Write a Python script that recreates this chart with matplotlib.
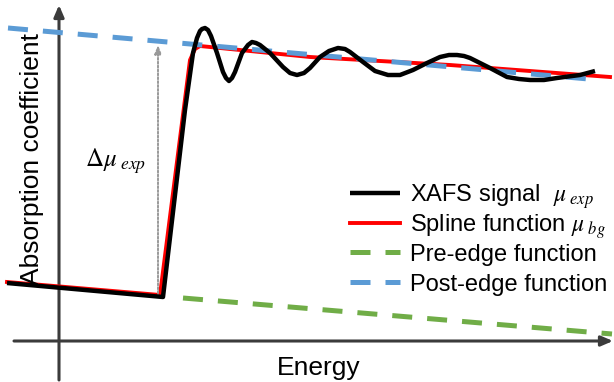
import matplotlib
matplotlib.use("Agg")
import matplotlib.pyplot as plt
from matplotlib.lines import Line2D

plt.rcParams['font.family'] = ['Liberation Sans', 'DejaVu Sans']
plt.rcParams['mathtext.fontset'] = 'stix'

# ---- data (arbitrary units, origin at the axes crossing) ----
xafs_E = [-52, 104, 126, 134, 138, 141, 143, 146, 149, 152, 158, 164, 167, 170, 173, 176,
          183, 189, 193, 197, 201, 211, 224, 231, 238, 245, 251, 261, 270, 279, 286, 291,
          304, 316, 329, 341, 354, 368, 381, 390, 398, 405, 411, 431, 448, 460, 471, 485,
          498, 521, 536]
xafs_mu = [58, 44, 231, 288, 303, 310, 312, 313, 311, 305, 288, 269, 263, 260, 263, 269,
           288, 296, 299, 298, 296, 288, 274, 268, 266, 268, 273, 284, 290, 293, 292, 289,
           279, 270, 266, 266, 271, 278, 284, 286, 286, 285, 283, 273, 264, 262, 261, 261,
           263, 266, 270]

spline_E = [-52, 101, 131, 136, 141, 251, 391, 551]
spline_mu = [59, 46, 281, 292, 295, 284, 276, 264]

pre_E = [124, 553]
pre_mu = [43, 7]

post_E = [-51, 541]
post_mu = [313, 261]

edge_E = 99
edge_mu0, edge_mu1 = 44, 296

labels = [r"XAFS signal  $\mu_{\ exp}$", r"Spline function $\mu_{\ bg}$",
          "Pre-edge function", "Post-edge function"]

# ---- figure ----
fig = plt.figure(figsize=(6.14, 3.82), dpi=100)
ax = fig.add_axes([0, 0, 1, 1])
ax.set_xlim(-59, 555)
ax.set_ylim(-41, 341)
ax.axis('off')

axc = '#3b3b3b'
# axes with arrows
ax.annotate('', xy=(0, 336), xytext=(0, -39),
            arrowprops=dict(arrowstyle='-|>,head_length=0.7,head_width=0.3', color=axc, lw=2.2,
                            shrinkA=0, shrinkB=0))
ax.annotate('', xy=(554, 0), xytext=(-45, 0),
            arrowprops=dict(arrowstyle='-|>,head_length=0.7,head_width=0.3', color=axc, lw=2.2,
                            shrinkA=0, shrinkB=0), annotation_clip=False)

styles = [dict(color='black', lw=3.2, solid_joinstyle='round', solid_capstyle='butt', zorder=5),
          dict(color='#FF0000', lw=2.8, zorder=3),
          dict(color='#70AD47', lw=3.6, dashes=(4, 3)),
          dict(color='#5B9BD5', lw=3.6, dashes=(4, 3), zorder=4)]

ax.plot(xafs_E, xafs_mu, **styles[0])
ax.plot(spline_E, spline_mu, **styles[1])
ax.plot(pre_E, pre_mu, **styles[2])
ax.plot(post_E, post_mu, **styles[3])

# delta mu arrow
ax.annotate('', xy=(edge_E, edge_mu1), xytext=(edge_E, edge_mu0),
            arrowprops=dict(arrowstyle='-|>,head_length=0.5,head_width=0.2', color='#999999',
                            lw=1.4, linestyle=(0, (1, 1)), shrinkA=0, shrinkB=0))
ax.text(26, 174, r"$\Delta\mu_{\ exp}$", fontsize=18, ha='left', va='baseline')

ax.text(218, -34, "Energy", fontsize=19, ha='left', va='baseline')
ax.text(-27, 182, "Absorption coefficient", fontsize=19, ha='center', va='center',
        rotation=90)

# manual legend (layout in axes-data units)
row_mid = [148, 118, 89, 59]
row_base = [139, 109, 80, 50]
for st, lab, ym, yb in zip(styles, labels, row_mid, row_base):
    st2 = {k: v for k, v in st.items() if k != 'zorder'}
    ax.add_line(Line2D([291, 341], [ym, ym], **st2))
    ax.text(351, yb, lab, fontsize=17, ha='left', va='baseline')

fig.savefig('out.png', dpi=100)
